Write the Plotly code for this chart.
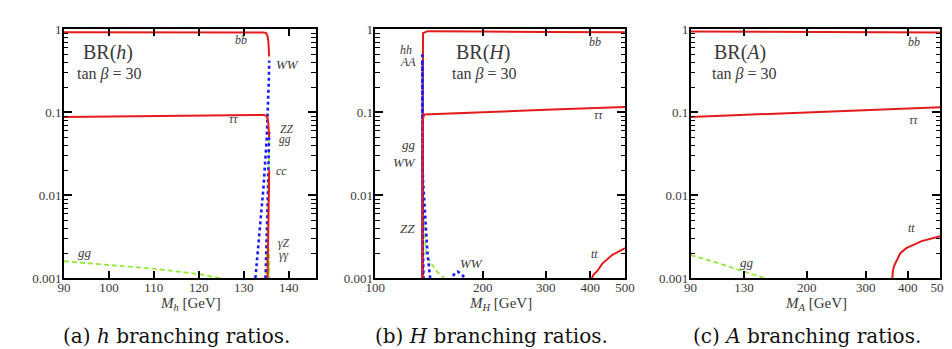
import math
import plotly.graph_objects as go

# ---------------- data ----------------
# Panel (a): BR(h) vs M_h [GeV]
h_bb_m = [90, 100, 110, 120, 130, 134.5, 135.0, 135.3, 135.5, 135.6, 135.66]
h_bb = [0.925, 0.925, 0.924, 0.923, 0.92, 0.918, 0.9, 0.83, 0.7, 0.55, 0.47]
h_tau_m = [90, 100, 110, 120, 130, 134.5, 135.0, 135.3, 135.5, 135.6, 135.66]
h_tau = [0.088, 0.089, 0.09, 0.091, 0.092, 0.093, 0.091, 0.085, 0.07, 0.055, 0.05]
h_ww_m = [132.6, 133.2, 133.8, 134.4, 135.1, 135.45, 135.6, 135.68]
h_ww = [0.001, 0.0022, 0.005, 0.0125, 0.047, 0.12, 0.25, 0.42]
h_zz_m = [134.85, 135.1, 135.3, 135.45, 135.6, 135.66]
h_zz = [0.001, 0.0025, 0.006, 0.015, 0.04, 0.058]
h_cc_m = [135.3, 135.45, 135.6, 135.68]
h_cc = [0.001, 0.003, 0.009, 0.02]
h_gg_m = [90, 100, 110, 120, 125, 130, 134.8, 135.2, 135.45, 135.6, 135.67]
h_gg = [0.0016, 0.00145, 0.0013, 0.00112, 0.001, 0.0008, 0.0008, 0.002, 0.008, 0.025, 0.045]
h_aa_m = [135.4, 135.55, 135.65, 135.72]
h_aa = [0.0007, 0.0012, 0.0018, 0.0022]
h_az_m = [135.45, 135.6, 135.72]
h_az = [0.0006, 0.001, 0.0016]

# Panel (b): BR(H) vs M_H [GeV]
H_bb_m = [135.4, 135.45, 135.55, 136, 140, 150, 200, 300, 400, 500]
H_bb = [0.001, 0.01, 0.2, 0.9, 0.95, 0.95, 0.94, 0.93, 0.925, 0.92]
H_tau_m = [135.4, 135.5, 135.6, 137, 150, 200, 300, 400, 500]
H_tau = [0.001, 0.01, 0.08, 0.094, 0.095, 0.1, 0.107, 0.112, 0.116]
H_hh_m = [135.4, 135.45, 135.5, 135.6, 135.8]
H_hh = [0.5, 0.2, 0.05, 0.008, 0.001]
H_AA_m = [135.4, 135.45, 135.55, 135.7]
H_AA = [0.4, 0.1, 0.01, 0.001]
H_ww_m = [135.45, 136, 137.5, 138.8, 139.8, 142.4, 150, 163.6, 167, 170, 173, 178.6, 185]
H_ww = [0.03, 0.015, 0.007, 0.0036, 0.0021, 0.001, 0.0005, 0.001, 0.00115, 0.0012, 0.00115, 0.001, 0.0008]
H_zz_m = [135.45, 135.8, 136.5, 138]
H_zz = [0.004, 0.002, 0.001, 0.0005]
H_gg_m = [135.45, 135.6, 136.3, 138.8, 143.3, 148.9, 155.5, 160]
H_gg = [0.04, 0.02, 0.006, 0.0019, 0.0015, 0.0012, 0.001, 0.0009]
H_tt_m = [404, 408, 419, 432, 460, 500]
H_tt = [0.001, 0.0011, 0.00123, 0.0015, 0.0019, 0.0023]

# Panel (c): BR(A) vs M_A [GeV]
A_m = [90, 130, 200, 300, 400, 500]
A_bb = [0.94, 0.935, 0.93, 0.925, 0.92, 0.915]
A_tau = [0.088, 0.093, 0.1, 0.106, 0.111, 0.115]
A_gg_m = [90, 110, 130, 150]
A_gg = [0.0019, 0.0015, 0.0012, 0.001]
A_tt_m = [360, 361, 364, 370, 380, 396, 440, 500]
A_tt = [0.001, 0.0012, 0.0014, 0.0016, 0.002, 0.0023, 0.0028, 0.0032]

# tick labels
y_ticks = [0.001, 0.01, 0.1, 1]
y_ticktext = ["0.001", "0.01", "0.1", "1"]
y_minor = [d * 10.0 ** e for e in (-3, -2, -1) for d in range(2, 10)]
xa_ticks = [90, 100, 110, 120, 130, 140]
xb_ticks = [100, 200, 300, 400, 500]
xc_ticks = [90, 130, 200, 300, 400, 500]

# ---------------- styling ----------------
RED = "#e31b1b"
BLUE = "#1a1aff"
GREEN = "#95e83c"
SERIF = "Liberation Serif"
CAPFONT = "DejaVu Serif"
TXT = "#3a3a3a"
W, H = 952, 349

red = dict(color=RED, width=2)
blue = dict(color=BLUE, width=2.6, dash="dot")
green = dict(color=GREEN, width=1.8, dash="5px,3px")

fig = go.Figure()


def add(x, y, line, xa, ya):
    fig.add_trace(go.Scatter(x=x, y=y, mode="lines", line=line,
                             xaxis=xa, yaxis=ya,
                             showlegend=False, hoverinfo="skip"))


# panel a  (y4 is an identical overlay of y that carries the minor ticks)
add(h_gg_m, h_gg, green, "x", "y")
add(h_aa_m, h_aa, green, "x", "y")
add(h_az_m, h_az, green, "x", "y")
add(h_ww_m, h_ww, blue, "x", "y")
add(h_zz_m, h_zz, blue, "x", "y")
add(h_cc_m, h_cc, red, "x", "y")
add(h_bb_m, h_bb, red, "x", "y")
add(h_tau_m, h_tau, red, "x", "y4")
# panel b
add(H_gg_m, H_gg, green, "x2", "y2")
add(H_bb_m, H_bb, red, "x2", "y2")
add(H_tau_m, H_tau, red, "x2", "y5")
add(H_tt_m, H_tt, red, "x2", "y2")
add(H_hh_m, H_hh, blue, "x2", "y2")
add(H_AA_m, H_AA, blue, "x2", "y2")
add(H_ww_m, H_ww, blue, "x2", "y2")
add(H_zz_m, H_zz, blue, "x2", "y2")
# panel c
add(A_gg_m, A_gg, green, "x3", "y3")
add(A_m, A_bb, red, "x3", "y3")
add(A_m, A_tau, red, "x3", "y6")
add(A_tt_m, A_tt, red, "x3", "y3")

tickfont = dict(family=SERIF, size=13, color=TXT)
ytop, ybot = 15, 275
ydom = [1 - ybot / H, 1 - ytop / H]
AXW = 1.6


def yax(anchor):
    return dict(type="log", range=[-3, 0], domain=ydom, anchor=anchor,
                tickmode="array", tickvals=y_ticks, ticktext=y_ticktext,
                ticks="inside", ticklen=8, tickwidth=1.6, tickcolor="black",
                showline=True, linecolor="black", linewidth=AXW, mirror="ticks",
                showgrid=False, zeroline=False, tickfont=tickfont,
                ticklabelstandoff=-2)


def yminor(anchor, over):
    return dict(type="log", range=[-3, 0], domain=ydom, anchor=anchor,
                overlaying=over, side="left",
                tickmode="array", tickvals=y_minor,
                ticktext=[""] * len(y_minor), showticklabels=True,
                ticks="inside", ticklen=4.5, tickwidth=1.4, tickcolor="black",
                showline=True, linecolor="black", linewidth=AXW, mirror="ticks",
                showgrid=False, zeroline=False, tickfont=tickfont)


def xax(anchor, px0, px1, typ, rng, tv):
    return dict(type=typ, range=rng, domain=[px0 / W, px1 / W], anchor=anchor,
                tickmode="array", tickvals=tv, ticktext=[str(v) for v in tv],
                ticks="inside", ticklen=7, tickwidth=1.6, tickcolor="black",
                showline=True, linecolor="black", linewidth=AXW, mirror="ticks",
                showgrid=False, zeroline=False, tickfont=tickfont,
                ticklabelstandoff=-4)


fig.update_layout(
    width=W, height=H, autosize=False,
    margin=dict(l=0, r=0, t=0, b=0),
    paper_bgcolor="white", plot_bgcolor="white",
    xaxis=xax("y", 47, 304, "linear", [90, 146], xa_ticks),
    yaxis=yax("x"),
    xaxis2=xax("y2", 365, 620, "log", [2, math.log10(500)], xb_ticks),
    yaxis2=yax("x2"),
    xaxis3=xax("y3", 687, 942, "log", [math.log10(90), math.log10(500)], xc_ticks),
    yaxis3=yax("x3"),
    yaxis4=yminor("x", "y"),
    yaxis5=yminor("x2", "y2"),
    yaxis6=yminor("x3", "y3"),
)

anns = []


def ann(text, px, py, size, color=TXT, family=SERIF):
    anns.append(dict(text=text, x=px / W, y=1 - py / H, xref="paper", yref="paper",
                     xanchor="center", yanchor="middle", showarrow=False,
                     font=dict(family=family, size=size, color=color)))


TANB = "tan <i>β</i> = 30"
# panel titles
ann("BR(<i>h</i>)", 92, 39, 20)
ann(TANB, 93, 62, 16)
ann("BR(<i>H</i>)", 475, 39, 20)
ann(TANB, 476, 62, 16)
ann("BR(<i>A</i>)", 737, 39, 20)
ann(TANB, 742, 62, 16)

# curve labels panel a
ann("<i>bb</i>", 228, 26, 12)
ann("<i>WW</i>", 275, 52, 13)
ann("<i>ττ</i>", 220, 109, 12)
ann("<i>ZZ</i>", 274, 119, 11.5)
ann("<i>gg</i>", 273, 130, 11.5)
ann("<i>cc</i>", 269, 163, 12)
ann("<i>γZ</i>", 272, 239, 11.5)
ann("<i>γγ</i>", 272, 251, 11.5)
ann("<i>gg</i>", 68, 248, 13)
# panel b
ann("<i>bb</i>", 589, 28, 12)
ann("<i>ττ</i>", 593, 105, 12)
ann("<i>hh</i>", 396, 37, 12)
ann("<i>AA</i>", 398, 49, 12)
ann("<i>gg</i>", 399, 135, 13)
ann("<i>WW</i>", 395, 154, 13)
ann("<i>ZZ</i>", 398, 223, 13)
ann("<i>WW</i>", 463, 260, 13)
ann("<i>tt</i>", 589, 250, 12)
# panel c
ann("<i>bb</i>", 915, 28, 12)
ann("<i>ττ</i>", 915, 110, 12)
ann("<i>tt</i>", 913, 223, 12)
ann("<i>gg</i>", 745, 259, 13)

# axis titles
ann("<i>M<sub>h</sub></i> [GeV]", 176, 302, 15)
ann("<i>M<sub>H</sub></i> [GeV]", 493, 302, 15)
ann("<i>M<sub>A</sub></i> [GeV]", 815, 302, 15)

# captions
ann("(a) <i>h</i> branching ratios.", 162, 335, 20, color="#111", family=CAPFONT)
ann("(b) <i>H</i> branching ratios.", 484, 335, 20, color="#111", family=CAPFONT)
ann("(c) <i>A</i> branching ratios.", 806, 335, 20, color="#111", family=CAPFONT)

fig.update_layout(annotations=anns)
fig.write_html("out.html")
